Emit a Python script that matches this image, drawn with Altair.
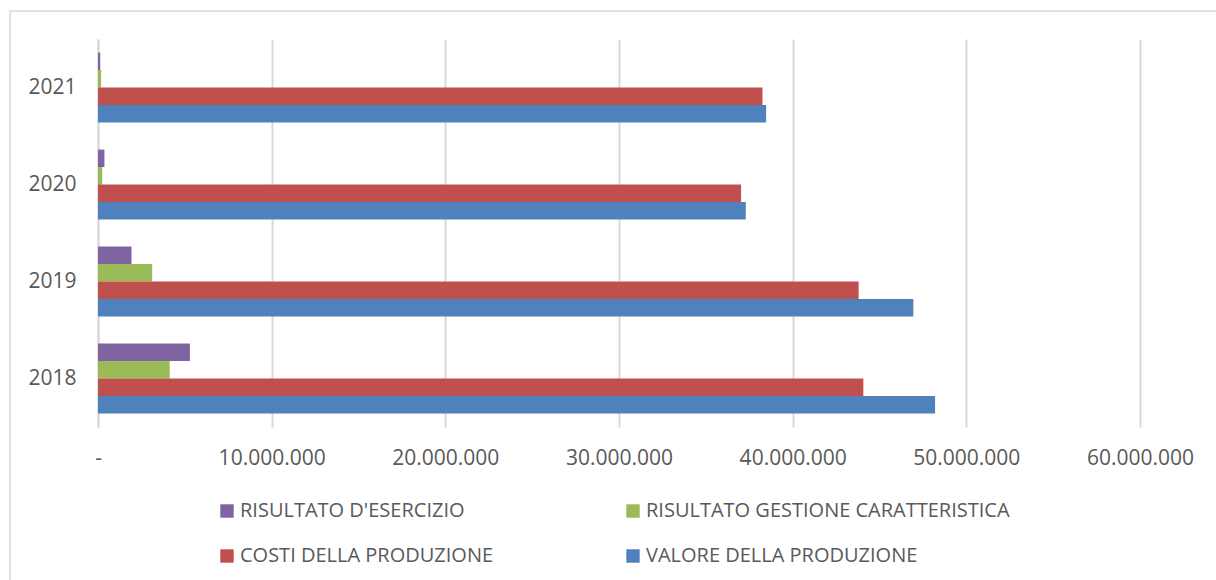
import altair as alt
import pandas as pd

# Annual figures (EUR)
years = ["2018", "2019", "2020", "2021"]
valore_produzione = [48_200_000, 46_950_000, 37_300_000, 38_470_000]
costi_produzione = [44_070_000, 43_800_000, 37_030_000, 38_260_000]
risultato_gestione = [4_130_000, 3_120_000, 240_000, 180_000]
risultato_esercizio = [5_290_000, 1_930_000, 370_000, 130_000]

# bar order inside each year group, top to bottom
series_names = [
    "RISULTATO D'ESERCIZIO",
    "RISULTATO GESTIONE CARATTERISTICA",
    "COSTI DELLA PRODUZIONE",
    "VALORE DELLA PRODUZIONE",
]
series_values = [risultato_esercizio, risultato_gestione, costi_produzione, valore_produzione]

# legend entries are laid out column by column
legend_order = [
    "RISULTATO D'ESERCIZIO",
    "COSTI DELLA PRODUZIONE",
    "RISULTATO GESTIONE CARATTERISTICA",
    "VALORE DELLA PRODUZIONE",
]
legend_colors = ["#8064A2", "#C0504D", "#9BBB59", "#4F81BD"]

rows = []
for name, vals in zip(series_names, series_values):
    for y, v in zip(years, vals):
        rows.append({"anno": y, "voce": name, "valore": v})
df = pd.DataFrame(rows)

FONT = "Open Sans"
TEXT = "#595959"
GRID = "#d9d9d9"

W, H = 1042, 388
LEFT, TOP = 98, 39

bars = alt.Chart(df).mark_bar().encode(
    y=alt.Y(
        "anno:N",
        sort=list(reversed(years)),
        title=None,
        scale=alt.Scale(paddingInner=0.28, paddingOuter=0.14),
        axis=alt.Axis(
            domain=True, domainColor=GRID, domainWidth=2, ticks=False,
            labelFont=FONT, labelFontSize=21, labelColor=TEXT, labelPadding=22,
        ),
    ),
    yOffset=alt.YOffset("voce:N", sort=series_names, scale=alt.Scale(paddingInner=0, paddingOuter=0)),
    x=alt.X(
        "valore:Q",
        title=None,
        scale=alt.Scale(domain=[0, 60_000_000], nice=False),
        axis=alt.Axis(
            values=[0, 10_000_000, 20_000_000, 30_000_000, 40_000_000, 50_000_000, 60_000_000],
            format=",d",
            labelExpr="datum.value === 0 ? '-' : datum.label",
            labelFlush=False, labelOverlap=False,
            domain=False, ticks=False, grid=True, gridColor=GRID, gridWidth=2,
            labelFont=FONT, labelFontSize=21, labelColor=TEXT, labelPadding=20,
        ),
    ),
    color=alt.Color(
        "voce:N",
        scale=alt.Scale(domain=legend_order, range=legend_colors),
        legend=alt.Legend(
            title=None, orient="none", legendX=119, legendY=462, columns=2,
            columnPadding=129, rowPadding=25,
            symbolType="square", symbolSize=180, symbolStrokeWidth=0,
            labelFont=FONT, labelFontSize=20, labelColor=TEXT, labelOffset=3,
            labelLimit=600,
        ),
    ),
)

# thin frame around the whole figure
frame = alt.Chart(pd.DataFrame({"k": [0]})).mark_rect(
    fill=None, stroke=GRID, strokeWidth=1.5, clip=False
).encode(
    x=alt.value(10 - LEFT), x2=alt.value(1230 - LEFT),
    y=alt.value(11 - TOP), y2=alt.value(620 - TOP),
)

chart = alt.layer(frame, bars).properties(
    width=W, height=H,
    autosize=alt.AutoSizeParams(type="none"),
    padding={"left": LEFT, "top": TOP, "right": 1216 - LEFT - W, "bottom": 580 - TOP - H},
    background="white",
).configure(
    locale={"number": {"decimal": ",", "thousands": ".", "grouping": [3], "currency": ["€", ""]}},
).configure_view(stroke=None)

chart.save("out.html", embed_options={"renderer": "svg", "actions": False})
